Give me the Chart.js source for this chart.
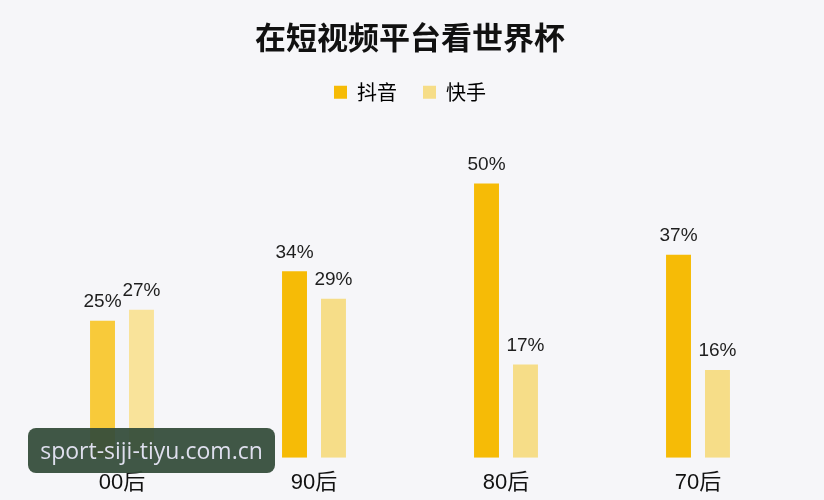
<!DOCTYPE html>
<html>
<head>
<meta charset="utf-8">
<script src="https://cdn.jsdelivr.net/npm/chart.js@4.4.1/dist/chart.umd.min.js"></script>
<style>
  html, body { margin: 0; padding: 0; background: #f6f6f9; }
  #wrap { position: relative; width: 824px; height: 500px; }
  #mark {
    position: absolute; left: 28px; top: 428px; width: 247px; height: 45px;
    border-radius: 8px; background: rgba(52, 76, 58, 0.94);
    color: #dfdfee; font: 23px "Open Sans", "Noto Sans", sans-serif;
    line-height: 45px; text-align: center;
  }
</style>
</head>
<body>
<div id="wrap">
  <canvas id="chart" width="824" height="500"></canvas>
  <div id="mark">sport-siji-tiyu.com.cn</div>
</div>
<script>
// 在短视频平台看世界杯
const categories = ['00后', '90后', '80后', '70后'];
const douyin = [25, 34, 50, 37];
const kuaishou = [27, 29, 17, 16];
const seriesNames = ['抖音', '快手'];

const CJK = '"Noto Sans CJK SC", "Noto Sans", sans-serif';
const NUM = '"Liberation Sans", "Noto Sans CJK SC", sans-serif';

// values on top of each bar
const barLabels = {
  id: 'barLabels',
  afterDatasetsDraw(chart) {
    const ctx = chart.ctx;
    ctx.save();
    ctx.font = '19px ' + NUM;
    ctx.fillStyle = '#1e1e1e';
    ctx.textAlign = 'center';
    ctx.textBaseline = 'middle';
    chart.data.datasets.forEach((ds, i) => {
      chart.getDatasetMeta(i).data.forEach((bar, j) => {
        ctx.fillText(ds.data[j] + '%', bar.x, bar.y - 19);
      });
    });
    ctx.restore();
  }
};

new Chart(document.getElementById('chart'), {
  type: 'bar',
  data: {
    labels: categories,
    datasets: [
      {
        label: seriesNames[0],
        data: douyin,
        backgroundColor: ['#f8ca3a', '#f6bb06', '#f6bb06', '#f6bb06'],
        legendColor: '#f6bb06'
      },
      {
        label: seriesNames[1],
        data: kuaishou,
        backgroundColor: ['#f9e39a', '#f6dd88', '#f6dd88', '#f6dd88'],
        legendColor: '#f6dd88'
      }
    ]
  },
  options: {
    responsive: false,
    animation: false,
    layout: { padding: { left: 26, right: 30, bottom: 0 } },
    datasets: {
      bar: { categoryPercentage: 0.406, barPercentage: 0.64 }
    },
    plugins: {
      title: {
        display: true,
        text: '在短视频平台看世界杯',
        color: '#111',
        font: { family: CJK, size: 31, weight: 'bold' },
        padding: { top: 19, bottom: 0 }
      },
      legend: {
        position: 'top',
        labels: {
          font: { family: CJK, size: 20 },
          color: '#222',
          boxWidth: 13,
          boxHeight: 13,
          padding: 26,
          generateLabels: chart => chart.data.datasets.map((ds, i) => ({
            text: ds.label,
            fillStyle: ds.legendColor,
            strokeStyle: ds.legendColor,
            lineWidth: 0,
            datasetIndex: i
          }))
        }
      },
      tooltip: { enabled: false }
    },
    scales: {
      x: {
        grid: { display: false },
        border: { display: false },
        ticks: { color: '#111', font: { family: NUM, size: 22, lineHeight: 1.1 }, padding: 5 }
      },
      y: {
        display: false,
        min: 0,
        max: 63
      }
    }
  },
  plugins: [barLabels]
});
</script>
</body>
</html>
